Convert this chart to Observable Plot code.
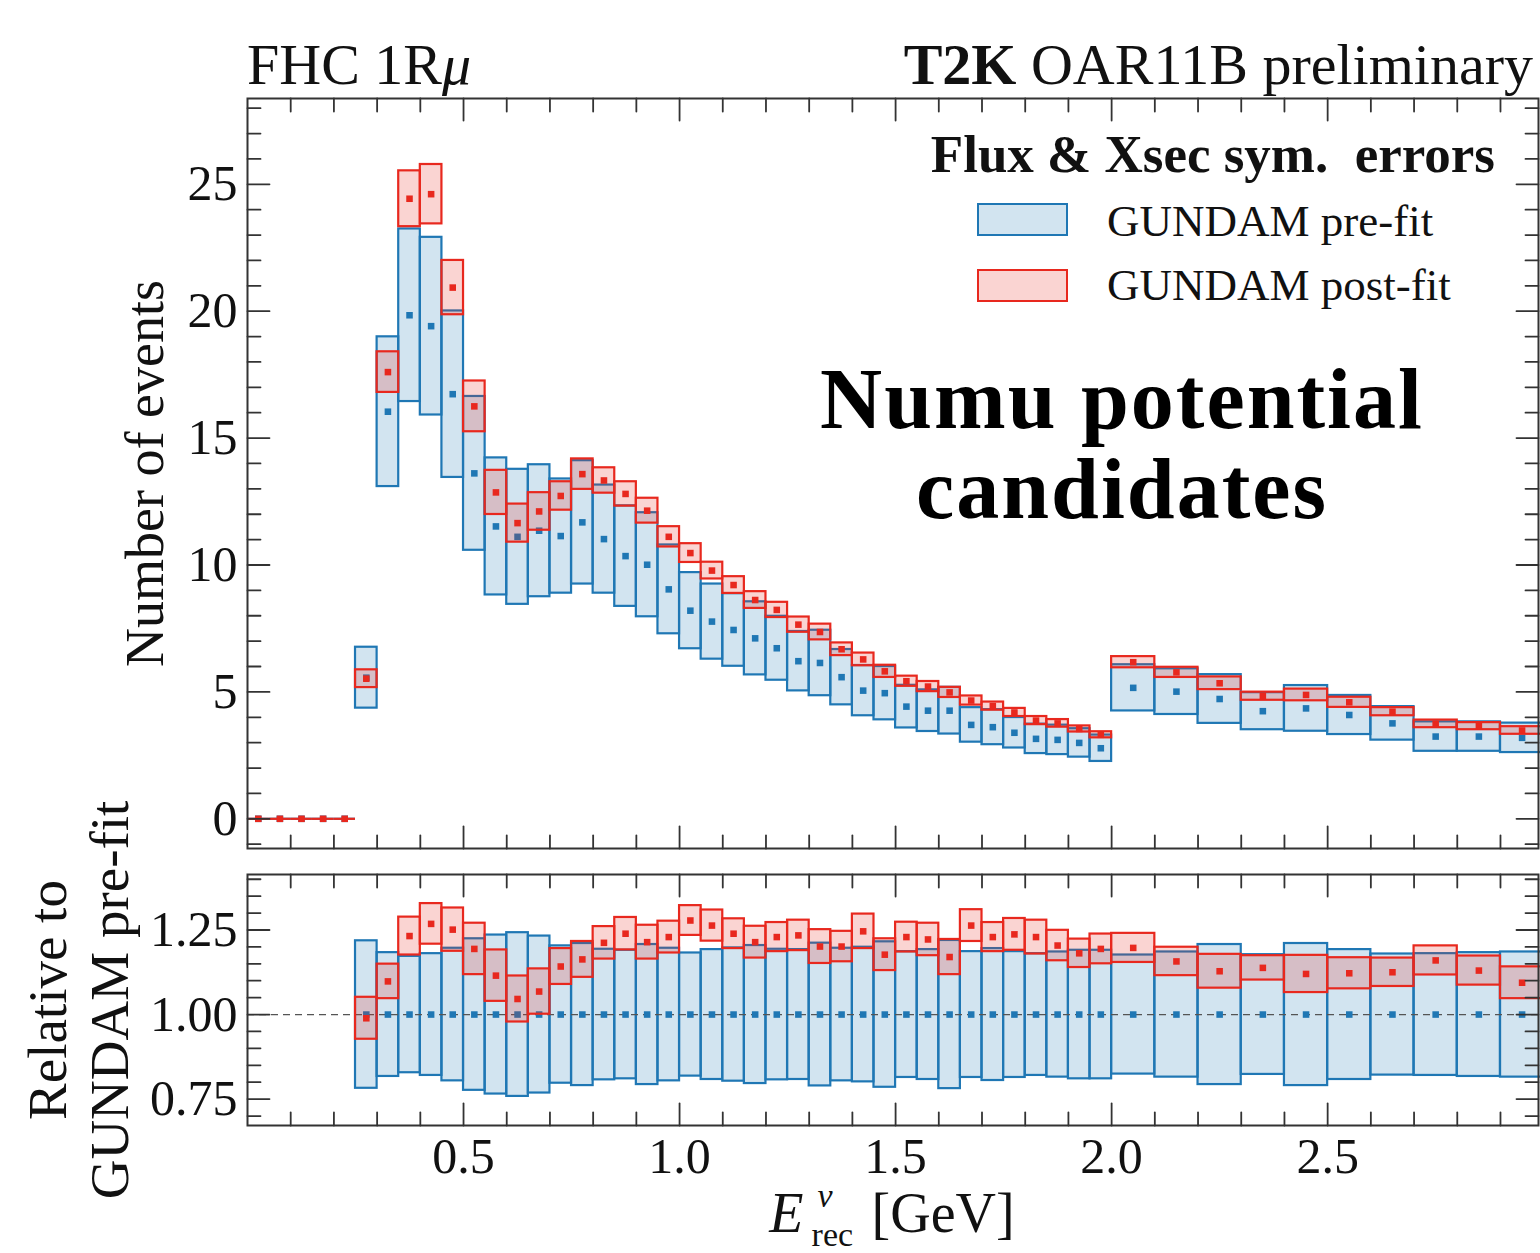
<!DOCTYPE html>
<html><head><meta charset="utf-8">
<script src="https://cdn.jsdelivr.net/npm/d3@7"></script>
<script src="https://cdn.jsdelivr.net/npm/@observablehq/plot@0.6"></script>
<style>
body{margin:0;background:#fff;}
#wrap{position:relative;width:1540px;height:1253px;overflow:hidden;font-family:'Liberation Serif','Times New Roman',serif;color:#111;}
.t{position:absolute;white-space:nowrap;line-height:1;}
.pane{position:absolute;left:0;}
</style></head><body><div id="wrap"><div class="pane" id="up" style="top:0"></div><div class="pane" id="lo" style="top:860px"></div></div>
<script>
// ---- data ----
const binEdges = [0, 0.05, 0.1, 0.15, 0.2, 0.25, 0.3, 0.35, 0.4, 0.45, 0.5, 0.55, 0.6, 0.65, 0.7, 0.75, 0.8, 0.85, 0.9, 0.95,
  1.0, 1.05, 1.1, 1.15, 1.2, 1.25, 1.3, 1.35, 1.4, 1.45, 1.5, 1.55, 1.6, 1.65, 1.7, 1.75, 1.8, 1.85, 1.9, 1.95,
  2.0, 2.1, 2.2, 2.3, 2.4, 2.5, 2.6, 2.7, 2.8, 2.9, 3.0];
const preCenter = [0, 0, 0, 0, 0, 5.56, 16.04, 19.84, 19.41, 16.73, 13.61, 11.52, 11.11, 11.35, 11.14, 11.68, 11.02, 10.35, 10.01, 9.04,
  8.20, 7.77, 7.44, 7.11, 6.72, 6.21, 6.14, 5.58, 5.05, 4.95, 4.42, 4.26, 4.26, 3.70, 3.61, 3.39, 3.15, 3.11, 2.99, 2.78,
  5.16, 5.01, 4.72, 4.24, 4.35, 4.09, 3.76, 3.24, 3.24, 3.19];
const preError = [0, 0, 0, 0, 0, 1.2, 2.95, 3.4, 3.5, 3.28, 3.03, 2.7, 2.66, 2.6, 2.25, 2.43, 2.13, 1.98, 2.05, 1.75,
  1.5, 1.48, 1.43, 1.44, 1.26, 1.17, 1.29, 1.09, 0.99, 1.05, 0.84, 0.82, 0.92, 0.68, 0.69, 0.6, 0.58, 0.58, 0.56, 0.52,
  0.91, 0.9, 0.96, 0.73, 0.9, 0.77, 0.66, 0.58, 0.58, 0.58];
const postCenter = [0, 0, 0, 0, 0, 5.52, 17.6, 24.43, 24.61, 20.93, 16.25, 12.86, 11.65, 12.11, 12.72, 13.58, 13.33, 12.80, 12.14, 11.11,
  10.47, 9.78, 9.21, 8.62, 8.23, 7.65, 7.36, 6.68, 6.28, 5.81, 5.42, 5.21, 4.98, 4.66, 4.44, 4.19, 3.87, 3.76, 3.54, 3.31,
  6.17, 5.77, 5.34, 4.83, 4.88, 4.59, 4.22, 3.74, 3.65, 3.48];
const postError = [0, 0, 0, 0, 0, 0.35, 0.8, 1.1, 1.17, 1.07, 1.0, 0.87, 0.75, 0.74, 0.56, 0.6, 0.5, 0.48, 0.49, 0.4,
  0.37, 0.33, 0.33, 0.33, 0.3, 0.3, 0.31, 0.25, 0.25, 0.24, 0.2, 0.2, 0.2, 0.18, 0.16, 0.16, 0.16, 0.15, 0.12, 0.12,
  0.22, 0.2, 0.25, 0.16, 0.23, 0.2, 0.16, 0.15, 0.14, 0.15];
// ratio panel (relative to pre-fit)
const ratioPreError = [null, null, null, null, null, .218, .183, .172, .18, .196, .224, .235, .242, .232, .203, .21, .193, .19, .207, .196,
  .182, .192, .197, .204, .193, .192, .211, .196, .199, .215, .186, .192, .219, .186, .195, .186, .18, .185, .19, .19,
  .176, .185, .207, .177, .21, .192, .179, .18, .183, .185];
const ratioPost = [null, null, null, null, null, .989, 1.098, 1.232, 1.268, 1.251, 1.194, 1.115, 1.046, 1.068, 1.142, 1.163, 1.212, 1.239, 1.214, 1.229,
  1.278, 1.263, 1.239, 1.214, 1.229, 1.234, 1.201, 1.201, 1.246, 1.177, 1.229, 1.222, 1.170, 1.263, 1.229, 1.237, 1.229, 1.204, 1.181, 1.194,
  1.197, 1.157, 1.128, 1.138, 1.120, 1.122, 1.125, 1.160, 1.130, 1.094];
const ratioPostError = [null, null, null, null, null, .062, .051, .056, .06, .064, .076, .076, .068, .067, .053, .053, .048, .048, .05, .047,
  .044, .046, .044, .047, .043, .045, .05, .045, .051, .047, .044, .048, .052, .047, .043, .047, .05, .045, .042, .044,
  .043, .042, .05, .036, .055, .046, .042, .043, .043, .047];
const xMajorTicks = [0.5, 1.0, 1.5, 2.0, 2.5];
const yMajorTicks = [0, 5, 10, 15, 20, 25];
const ratioMajorTicks = [0.75, 1.00, 1.25];

// ---- styling ----
const FONT = "'Liberation Serif', 'Times New Roman', serif";
const BLUE = "#1f77b4", RED = "#e8281e", INK = "#333";
const W = 1540, ML = 247, MR = 2;
const xDomain = [0, 2.988];
const DOT_R = 3.7;

const bins = preCenter.map((c, i) => ({
  x1: binEdges[i], x2: binEdges[i + 1], xm: (binEdges[i] + binEdges[i + 1]) / 2,
  pre: c, preLo: c - preError[i], preHi: c + preError[i],
  post: postCenter[i], postLo: postCenter[i] - postError[i], postHi: postCenter[i] + postError[i],
  rPre: ratioPreError[i] == null ? null : 1,
  rPreLo: ratioPreError[i] == null ? null : 1 - ratioPreError[i],
  rPreHi: ratioPreError[i] == null ? null : 1 + ratioPreError[i],
  rPost: ratioPost[i], rPostLo: ratioPost[i] == null ? null : ratioPost[i] - ratioPostError[i],
  rPostHi: ratioPost[i] == null ? null : ratioPost[i] + ratioPostError[i]
}));
const boxBins = bins.filter(d => d.preHi > d.preLo);
const flatBins = bins.filter(d => !(d.preHi > d.preLo));
const ratioBins = bins.filter(d => d.rPost != null);

const tickShape = {draw(ctx, l) { ctx.moveTo(0, 0); ctx.lineTo(0, -l); }};
function frameTicks(xMaj, xMin, yMaj, yMin) {
  const s = {stroke: INK, strokeWidth: 1.8, shape: tickShape, anchor: "start"};
  const out = [];
  for (const [fa, rot] of [["bottom", 0], ["top", 180]]) {
    out.push(Plot.vector(xMaj, {x: d => d, frameAnchor: fa, rotate: rot, length: 22, ...s}));
    out.push(Plot.vector(xMin, {x: d => d, frameAnchor: fa, rotate: rot, length: 13, ...s}));
  }
  for (const [fa, rot] of [["left", 90], ["right", -90]]) {
    out.push(Plot.vector(yMaj, {y: d => d, frameAnchor: fa, rotate: rot, length: 22, ...s}));
    out.push(Plot.vector(yMin, {y: d => d, frameAnchor: fa, rotate: rot, length: 13, ...s}));
  }
  return out;
}
const xMinor = d3.range(1, 30).map(i => i / 10).filter(v => !xMajorTicks.some(m => Math.abs(m - v) < 1e-9));
const yMinor = d3.range(-1, 29).filter(v => !yMajorTicks.includes(v));
const rMinor = d3.range(14, 29).map(i => +(i * 0.05).toFixed(2)).filter(v => !ratioMajorTicks.includes(v));

const style = {fontFamily: FONT, fontSize: "50px", color: "#111", background: "transparent", overflow: "visible"};

const upper = Plot.plot({
  width: W, height: 860, marginLeft: ML, marginRight: MR, marginTop: 98, marginBottom: 12,
  x: {domain: xDomain, axis: null},
  y: {domain: [-1.17, 28.38]},
  style,
  marks: [
    Plot.rect(boxBins, {x1: "x1", x2: "x2", y1: "preLo", y2: "preHi", fill: BLUE, fillOpacity: 0.2, stroke: BLUE, strokeWidth: 2.2}),
    Plot.ruleY(flatBins, {x1: "x1", x2: "x2", y: "pre", stroke: BLUE, strokeWidth: 2.2}),
    Plot.dot(bins, {x: "xm", y: "pre", symbol: "square", r: DOT_R, fill: BLUE}),
    Plot.rect(boxBins, {x1: "x1", x2: "x2", y1: "postLo", y2: "postHi", fill: RED, fillOpacity: 0.2, stroke: RED, strokeWidth: 2.2}),
    Plot.ruleY(flatBins, {x1: "x1", x2: "x2", y: "post", stroke: RED, strokeWidth: 2.2}),
    Plot.dot(bins, {x: "xm", y: "post", symbol: "square", r: DOT_R, fill: RED}),
    Plot.frame({stroke: INK, strokeWidth: 2}),
    ...frameTicks(xMajorTicks, xMinor, yMajorTicks, yMinor),
    Plot.axisY(yMajorTicks, {tickSize: 0, tickPadding: 10, fontSize: 50, label: null}),
    Plot.text(["Number of events"], {text: d => d, frameAnchor: "left", textAnchor: "middle", lineAnchor: "middle", dx: -102, rotate: -90, fontSize: 54})
  ]
});
document.getElementById("up").appendChild(upper);

const lower = Plot.plot({
  width: W, height: 393, marginLeft: ML, marginRight: MR, marginTop: 14, marginBottom: 128,
  x: {domain: xDomain},
  y: {domain: [0.672, 1.414]},
  style,
  marks: [
    Plot.rect(ratioBins, {x1: "x1", x2: "x2", y1: "rPreLo", y2: "rPreHi", fill: BLUE, fillOpacity: 0.2, stroke: BLUE, strokeWidth: 2.2}),
    Plot.ruleY([1], {stroke: "#555", strokeDasharray: "7,5", strokeWidth: 1.3}),
    Plot.dot(ratioBins, {x: "xm", y: "rPre", symbol: "square", r: DOT_R, fill: BLUE}),
    Plot.rect(ratioBins, {x1: "x1", x2: "x2", y1: "rPostLo", y2: "rPostHi", fill: RED, fillOpacity: 0.2, stroke: RED, strokeWidth: 2.2}),
    Plot.dot(ratioBins, {x: "xm", y: "rPost", symbol: "square", r: DOT_R, fill: RED}),
    Plot.frame({stroke: INK, strokeWidth: 2}),
    ...frameTicks(xMajorTicks, xMinor, ratioMajorTicks, rMinor),
    Plot.axisY(ratioMajorTicks, {tickSize: 0, tickPadding: 10, fontSize: 50, tickFormat: d3.format(".2f"), label: null}),
    Plot.axisX(xMajorTicks, {tickSize: 0, tickPadding: 12, fontSize: 50, tickFormat: d3.format(".1f"), label: null}),
    Plot.text(["Relative to\nGUNDAM pre-fit"], {text: d => d, frameAnchor: "left", textAnchor: "middle", lineAnchor: "middle", dx: -170, rotate: -90, fontSize: 55, lineHeight: 1.13})
  ]
});
document.getElementById("lo").appendChild(lower);

// ---- text overlays ----
const wrap = document.getElementById("wrap");
function place(html, x, baseline, size, anchor = "start", extra = "") {
  const d = document.createElement("div");
  d.className = "t";
  d.innerHTML = html;
  const tx = anchor === "end" ? "translateX(-100%)" : anchor === "middle" ? "translateX(-50%)" : "none";
  d.style.cssText = `left:${x}px;top:${baseline - 0.8375 * size}px;font-size:${size}px;transform:${tx};${extra}`;
  wrap.appendChild(d);
  return d;
}
place("FHC 1R<i>μ</i>", 247, 85, 58);
place("<b>T2K</b> OAR11B preliminary", 1533, 85, 58, "end");
place("<b>Flux &amp; Xsec sym.&nbsp; errors</b>", 1495, 172, 53, "end");
place("GUNDAM pre-fit", 1107, 237, 45);
place("GUNDAM post-fit", 1107, 301, 45);
for (const [top, c] of [[203, BLUE], [269, RED]]) {
  const s = document.createElement("div");
  s.style.cssText = `position:absolute;left:977px;top:${top}px;width:87px;height:29px;border:2px solid ${c};background:${c === BLUE ? "rgba(31,119,180,0.2)" : "rgba(232,40,30,0.2)"};`;
  wrap.appendChild(s);
}
place("<b>Numu potential</b>", 1122, 428, 86, "middle", "letter-spacing:2px;color:#000;");
place("<b>candidates</b>", 1122, 518, 86, "middle", "letter-spacing:2px;color:#000;");
// x-axis label: E (italic) with superscript ν and subscript rec, then [GeV]
place(`<span style="font-style:italic;padding-right:1px">E</span><span style="display:inline-block;position:relative;width:67px;height:39px;"><span style="position:absolute;left:13px;top:-14px;font-size:34px;font-style:italic;line-height:1">ν</span><span style="position:absolute;left:7px;top:25px;font-size:34px;line-height:1">rec</span></span>[GeV]`, 892, 1232, 56, "middle");
</script></body></html>
